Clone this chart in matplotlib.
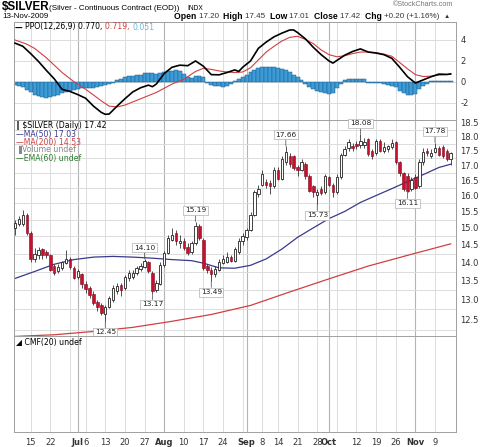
import numpy as np
import pandas as pd
import matplotlib.pyplot as plt
from matplotlib.ticker import FixedLocator, FixedFormatter, NullLocator

# ---- data --------------------------------------------------------------
holidays = ['2009-07-03', '2009-09-07']
dates = pd.bdate_range('2009-06-09', '2009-11-13')
dates = dates[~dates.isin(pd.to_datetime(holidays))]

opens = [15.00, 15.12, 15.12, 15.38, 14.85, 14.10, 14.20, 14.38, 14.30, 14.20,
         13.90, 13.75, 13.85, 13.98, 14.10, 13.85, 13.60, 13.68, 13.42, 13.30,
         13.15, 12.95, 12.85, 12.62, 12.82, 13.00, 13.22, 13.38, 13.30, 13.58,
         13.60, 13.72, 13.82, 13.88, 14.02, 13.72, 13.25, 13.40, 13.92, 14.28,
         14.65, 14.85, 14.55, 14.62, 14.45, 14.30, 14.55, 15.05, 14.65, 13.90,
         13.80, 13.68, 13.80, 13.98, 14.02, 14.15, 14.05, 14.30, 14.60, 14.72,
         14.95, 15.40, 16.05, 16.35, 16.45, 16.40, 16.30, 16.85, 16.55, 17.10,
         17.30, 17.30, 16.95, 16.85, 17.05, 16.65, 16.30, 16.02, 16.22, 16.10,
         16.60, 16.35, 16.10, 16.60, 17.35, 17.60, 17.65, 17.72, 17.68, 17.70,
         17.90, 17.50, 17.40, 17.85, 17.50, 17.55, 17.62, 17.80, 17.10, 16.72,
         16.65, 16.20, 16.60, 16.30, 17.10, 17.50, 17.30, 17.45, 17.60, 17.62,
         17.50, 17.20]
highs = [15.25, 15.35, 15.55, 15.45, 14.90, 14.40, 14.45, 14.42, 14.35, 14.25,
         13.95, 13.95, 14.05, 14.35, 14.15, 13.90, 13.82, 13.72, 13.50, 13.35,
         13.22, 13.00, 12.90, 12.85, 13.10, 13.38, 13.45, 13.45, 13.65, 13.80,
         13.78, 13.90, 13.98, 14.10, 14.05, 13.76, 13.52, 14.00, 14.32, 14.80,
         15.00, 14.95, 14.78, 14.70, 14.55, 14.60, 15.19, 15.12, 14.70, 13.95,
         13.88, 13.90, 14.10, 14.20, 14.30, 14.20, 14.45, 14.70, 14.85, 15.00,
         15.48, 16.18, 16.35, 16.85, 16.55, 16.50, 16.95, 16.95, 17.30, 17.66,
         17.40, 17.35, 17.00, 17.20, 17.10, 16.70, 16.35, 16.20, 16.30, 16.70,
         16.65, 16.40, 16.70, 17.40, 17.65, 17.90, 17.75, 17.85, 18.08, 17.95,
         17.95, 17.55, 17.90, 17.90, 17.80, 17.70, 17.90, 17.85, 17.15, 16.78,
         16.75, 16.60, 16.70, 17.20, 17.60, 17.60, 17.55, 17.78, 17.65, 17.68,
         17.55, 17.45]
lows = [14.80, 15.05, 15.05, 14.80, 14.00, 14.00, 14.10, 14.10, 14.12, 13.75,
        13.65, 13.70, 13.80, 13.95, 13.82, 13.55, 13.55, 13.30, 13.18, 13.05,
        12.85, 12.72, 12.60, 12.45, 12.78, 12.95, 13.15, 13.10, 13.25, 13.50,
        13.55, 13.65, 13.75, 13.85, 13.70, 13.17, 13.20, 13.38, 13.88, 14.25,
        14.60, 14.50, 14.40, 14.35, 14.20, 14.25, 14.50, 14.65, 13.80, 13.70,
        13.49, 13.60, 13.75, 13.95, 13.98, 14.00, 14.00, 14.25, 14.50, 14.65,
        14.90, 15.35, 15.95, 16.30, 16.25, 16.05, 16.25, 16.50, 16.50, 17.00,
        16.95, 16.85, 16.65, 16.80, 16.55, 16.10, 15.95, 15.73, 16.00, 16.05,
        16.30, 15.95, 16.05, 16.55, 17.30, 17.50, 17.50, 17.55, 17.60, 17.60,
        17.30, 17.22, 17.35, 17.45, 17.40, 17.45, 17.55, 17.05, 16.65, 16.15,
        16.11, 16.15, 16.20, 16.25, 17.00, 17.30, 17.25, 17.40, 17.30, 17.25,
        17.15, 17.01]
closes = [15.15, 15.27, 15.38, 14.85, 14.10, 14.25, 14.35, 14.20, 14.20, 13.80,
          13.72, 13.88, 14.00, 14.10, 13.87, 13.58, 13.75, 13.40, 13.27, 13.12,
          12.90, 12.80, 12.65, 12.80, 13.05, 13.30, 13.35, 13.25, 13.60, 13.70,
          13.72, 13.85, 13.90, 14.05, 13.75, 13.22, 13.45, 13.92, 14.28, 14.70,
          14.80, 14.60, 14.62, 14.40, 14.28, 14.55, 15.05, 14.70, 13.85, 13.78,
          13.68, 13.82, 14.00, 14.10, 14.15, 14.05, 14.38, 14.60, 14.75, 14.95,
          15.40, 16.10, 16.20, 16.70, 16.35, 16.30, 16.85, 16.55, 17.20, 17.45,
          17.05, 16.90, 16.85, 17.10, 16.65, 16.15, 16.12, 16.10, 16.08, 16.62,
          16.35, 16.10, 16.60, 17.35, 17.55, 17.80, 17.58, 17.65, 17.82, 17.80,
          17.38, 17.30, 17.85, 17.50, 17.62, 17.65, 17.75, 17.10, 16.72, 16.20,
          16.15, 16.50, 16.25, 17.10, 17.45, 17.40, 17.42, 17.60, 17.35, 17.30,
          17.22, 17.42]

# moving averages, sampled along the chart (day index, value)
ma50_days = [0, 5, 10, 15, 20, 25, 30, 35, 40, 45, 48, 52, 56, 60, 64, 68,
             72, 76, 80, 84, 88, 92, 96, 100, 104, 108, 111]
ma50_vals = [13.56, 13.75, 13.95, 14.08, 14.15, 14.17, 14.15, 14.12, 14.08,
             14.05, 13.98, 13.85, 13.84, 13.92, 14.10, 14.38, 14.72, 15.00,
             15.28, 15.50, 15.78, 16.00, 16.22, 16.45, 16.68, 16.92, 17.03]
ma200_days = [0, 10, 20, 30, 40, 50, 60, 70, 80, 90, 100, 111]
ma200_vals = [12.08, 12.12, 12.20, 12.30, 12.45, 12.62, 12.85, 13.20, 13.55,
              13.90, 14.20, 14.53]

# PPO(12,26,9)
ppo_days = [0, 2, 4, 6, 8, 10, 12, 14, 16, 18, 20, 22, 23, 24, 26, 28, 30, 32,
            34, 35, 36, 38, 40, 42, 44, 46, 48, 50, 52, 54, 56, 57, 58, 60, 62,
            64, 66, 68, 70, 71, 72, 74, 76, 78, 80, 81, 82, 84, 86, 88, 90, 92,
            94, 96, 98, 100, 102, 104, 106, 108, 110, 111]
ppo_vals = [3.70, 3.40, 2.70, 1.95, 1.10, 0.30, -0.70, -0.90, -1.20, -1.55,
            -2.30, -2.90, -3.08, -3.05, -2.30, -1.60, -0.95, -0.55, -0.30, -0.45,
            -0.20, 0.80, 1.40, 1.60, 1.55, 2.00, 1.50, 0.70, 0.68, 0.90, 1.15,
            1.00, 1.40, 2.00, 3.20, 3.80, 4.30, 4.65, 4.95, 4.95, 4.70, 4.10,
            3.30, 2.60, 2.00, 1.80, 2.05, 2.55, 2.90, 3.15, 2.85, 2.75, 2.60,
            2.25, 1.40, 0.50, -0.10, 0.20, 0.50, 0.75, 0.72, 0.77]
signal_days = [0, 3, 5, 8, 10, 12, 15, 18, 20, 22, 24, 26, 28, 30, 32, 34, 36,
               38, 40, 43, 46, 48, 50, 52, 54, 56, 58, 60, 62, 64, 66, 68, 70,
               72, 74, 76, 78, 80, 82, 84, 86, 88, 90, 92, 94, 96, 98, 100, 102,
               104, 106, 108, 110, 111]
signal_vals = [4.00, 3.60, 3.20, 2.30, 1.60, 0.90, 0.03, -0.70, -1.24, -1.80,
               -2.30, -2.38, -2.20, -1.90, -1.60, -1.30, -1.00, -0.60, -0.20,
               0.25, 1.00, 1.30, 1.20, 1.05, 0.95, 0.90, 0.95, 1.35, 2.10, 2.85,
               3.40, 3.90, 4.25, 4.35, 4.05, 3.65, 3.05, 2.60, 2.40, 2.50, 2.70,
               2.85, 2.85, 2.80, 2.65, 2.45, 1.85, 1.25, 0.70, 0.52, 0.55, 0.65,
               0.70, 0.72]
hist_vals = [-0.30, -0.35, -0.45, -0.75, -1.00, -1.25, -1.35, -1.45, -1.50, -1.45,
             -1.35, -1.20, -1.05, -0.95, -0.85, -0.75, -0.65, -0.60, -0.55, -0.55,
             -0.55, -0.50, -0.40, -0.30, -0.20, -0.10, 0.15, 0.30, 0.45, 0.55,
             0.60, 0.65, 0.70, 0.85, 0.90, 0.85, 0.80, 0.85, 0.95, 1.00,
             1.05, 1.10, 1.05, 0.75, 0.50, 0.35, 0.55, 0.60, 0.45, -0.10,
             -0.25, -0.35, -0.40, -0.45, -0.35, -0.20, 0.10, 0.25, 0.45, 0.65,
             0.95, 1.15, 1.30, 1.40, 1.43, 1.43, 1.40, 1.35, 1.25, 1.10,
             0.95, 0.70, 0.45, 0.20, -0.20, -0.45, -0.70, -0.85, -0.95, -1.05,
             -1.10, -1.05, -0.60, -0.20, 0.20, 0.28, 0.30, 0.30, 0.30, 0.25,
             -0.05, -0.08, -0.10, -0.12, -0.15, -0.25, -0.35, -0.45, -0.85, -1.05,
             -1.20, -1.27, -1.15, -0.70, -0.40, -0.20, 0.05, 0.10, 0.12, 0.14,
             0.10, 0.05]

# swing high / low labels: (day index, 'high' or 'low')
swing_days = [33, 46, 69, 88, 107, 23, 35, 50, 77, 100]
swing_kind = ['high', 'high', 'high', 'high', 'high', 'low', 'low', 'low', 'low', 'low']

tick_dates = ['2009-06-15', '2009-06-22', '2009-07-01', '2009-07-06', '2009-07-13',
              '2009-07-20', '2009-07-27', '2009-08-03', '2009-08-10', '2009-08-17',
              '2009-08-24', '2009-09-01', '2009-09-08', '2009-09-14', '2009-09-21',
              '2009-09-28', '2009-10-01', '2009-10-12', '2009-10-19', '2009-10-26',
              '2009-11-02', '2009-11-09']
tick_labels = ['15', '22', 'Jul', '6', '13', '20', '27', 'Aug', '10', '17', '24',
               'Sep', '8', '14', '21', '28', 'Oct', '12', '19', '26', 'Nov', '9']
month_names = {'Jul', 'Aug', 'Sep', 'Oct', 'Nov'}

price_ticks = [12.5, 13.0, 13.5, 14.0, 14.5, 15.0, 15.5, 16.0, 16.5, 17.0, 17.5, 18.0, 18.5]
ppo_ticks = [-2, 0, 2, 4]

# ---- figure ------------------------------------------------------------
W, H = 490, 447
fig = plt.figure(figsize=(W / 100, H / 100), dpi=100)
plt.rcParams['font.family'] = ['DejaVu Sans']

GRID = '#dcdcdc'
MONTH_GRID = '#b4b4b4'
RED = '#c8102e'
MA_RED = '#d04040'
NAVY = '#3a3a8c'
BLUE = '#3d9bd6'


def panel(top, bottom, left=14, right=456):
    return fig.add_axes([left / W, 1 - bottom / H, (right - left) / W, (bottom - top) / H])


def fig_text(x, y, s, **kw):
    kw.setdefault('va', 'center')
    return fig.text(x / W, 1 - y / H, s, **kw)


def text_row(x, y, parts, **kw):
    """write coloured / bold pieces one after another on one line"""
    renderer = fig.canvas.get_renderer()
    for s, color, weight, size in parts:
        t = fig_text(x, y, s, color=color, fontweight=weight, fontsize=size, **kw)
        x += t.get_window_extent(renderer).width


x = np.arange(len(dates))
opens, highs, lows, closes = map(np.array, (opens, highs, lows, closes))
week_first = [i for i in range(1, len(dates)) if dates[i].weekday() < dates[i - 1].weekday()]
month_first = [i for i in range(1, len(dates)) if dates[i].month != dates[i - 1].month]
xlim = (-0.25, 112.35)

ax_ppo = panel(22, 120)
ax_px = panel(120, 336)
ax_cmf = panel(336, 432)

for ax in (ax_ppo, ax_px, ax_cmf):
    ax.set_xlim(*xlim)
    for sp in ax.spines.values():
        sp.set_color('#a0a0a0')
        sp.set_linewidth(0.7)
    for i in week_first:
        if i not in month_first:
            ax.axvline(i, color=GRID, lw=0.7, zorder=0)
    for i in month_first:
        ax.axvline(i, color=MONTH_GRID, lw=0.8, zorder=0)
    ax.yaxis.tick_right()
    ax.tick_params(axis='both', length=0, labelsize=6, labelcolor='#333333', pad=3)
    ax.set_xticks([])

# PPO panel
ax_ppo.set_ylim(-3.62, 5.71)
ax_ppo.yaxis.set_major_locator(FixedLocator(ppo_ticks))
ax_ppo.yaxis.set_major_formatter(FixedFormatter([str(t) for t in ppo_ticks]))
for t in ppo_ticks:
    ax_ppo.axhline(t, color=GRID, lw=0.7, zorder=0)
ax_ppo.bar(x, hist_vals, width=1.0, color=BLUE, edgecolor='#1d5f8e', lw=0.35, zorder=2)
ax_ppo.plot(signal_days, signal_vals, color=MA_RED, lw=0.8, zorder=3)
ax_ppo.plot(ppo_days, ppo_vals, color='black', lw=1.2, zorder=4)

# price panel (log scale, grid sits half way between the labels)
ax_px.set_yscale('log')
ax_px.set_ylim(12.09, 18.60)
ax_px.yaxis.set_major_locator(FixedLocator(price_ticks))
ax_px.yaxis.set_major_formatter(FixedFormatter([f'{t:.1f}' for t in price_ticks]))
ax_px.yaxis.set_minor_locator(NullLocator())
grid_levels = [np.sqrt(a * b) for a, b in zip([12.0] + price_ticks[:-1], price_ticks)]
for g in grid_levels:
    ax_px.axhline(g, color=GRID, lw=0.7, zorder=0)

ax_px.plot(ma200_days, ma200_vals, color=MA_RED, lw=0.9, zorder=2)
ax_px.plot(ma50_days, ma50_vals, color=NAVY, lw=0.9, zorder=2)

up = closes >= opens
body_lo = np.minimum(opens, closes)
body_h = np.maximum(np.abs(closes - opens), 0.02)
ax_px.vlines(x, lows, highs, color='#333333', lw=0.6, zorder=3)
ax_px.bar(x[up], body_h[up], bottom=body_lo[up], width=0.62, facecolor='white',
          edgecolor='#222222', lw=0.6, zorder=4)
ax_px.bar(x[~up], body_h[~up], bottom=body_lo[~up], width=0.62, facecolor=RED,
          edgecolor='#7a0a1c', lw=0.4, zorder=4)

for i, kind in zip(swing_days, swing_kind):
    val = highs[i] if kind == 'high' else lows[i]
    off = 8 if kind == 'high' else -8
    ax_px.annotate(f'{val:.2f}', xy=(i, val), xytext=(0, off), textcoords='offset points',
                   ha='center', va='center', fontsize=5.3, color='#222222', zorder=6,
                   bbox=dict(boxstyle='square,pad=0.2', fc='white', ec='#b0b0b0', lw=0.5),
                   arrowprops=dict(arrowstyle='-', color='#444444', lw=0.5,
                                   shrinkA=0, shrinkB=0))

# CMF panel (empty) carries the date axis
ax_cmf.set_yticks([])
tick_pos = [dates.get_loc(pd.Timestamp(d)) for d in tick_dates]
ax_cmf.set_xticks(tick_pos)
ax_cmf.set_xticklabels(tick_labels)
ax_cmf.tick_params(axis='x', length=0, pad=4, labelsize=6)
for lab in ax_cmf.get_xticklabels():
    if lab.get_text() in month_names:
        lab.set_fontweight('bold')

# ---- header and legends ------------------------------------------------
fig_text(2, 7, '$SILVER', fontsize=8.4, fontweight='bold', family='Liberation Sans')
fig_text(49, 8, '(Silver - Continuous Contract (EOD))', fontsize=5.8, family='Liberation Sans')
fig_text(187, 8, 'INDX', fontsize=4.8, family='Liberation Sans')
fig_text(2, 16.5, '13-Nov-2009', fontsize=5.8, family='Liberation Sans')
fig_text(453, 5, '\u00a9StockCharts.com', fontsize=5.2, color='#777777',
         family='Liberation Sans', ha='right')

hdr = []
for name, val in [('Open', '17.20'), ('High', '17.45'), ('Low', '17.01'),
                  ('Close', '17.42'), ('Chg', '+0.20 (+1.16%)')]:
    hdr.append((name + ' ', 'black', 'bold', 6.2))
    hdr.append((val + '  ', '#333333', 'normal', 5.8))
hdr.append(('\u25b2', '#333333', 'normal', 4.5))
text_row(174, 16.5, hdr, family='Liberation Sans')

text_row(15, 27, [('\u2014 ', 'black', 'bold', 5.6),
                  ('PPO(12,26,9) 0.770, ', 'black', 'normal', 5.6),
                  ('0.719, ', MA_RED, 'normal', 5.6),
                  ('0.051', '#6bb4e0', 'normal', 5.6)])

fig_text(16, 126, '\u2016 $SILVER (Daily) 17.42', fontsize=5.6, color='black')
fig_text(16, 134, '\u2014MA(50) 17.03', fontsize=5.6, color=NAVY)
fig_text(16, 142, '\u2014MA(200) 14.53', fontsize=5.6, color=MA_RED)
fig_text(16, 150, '\u2590Volume undef', fontsize=5.6, color='#888888')
fig_text(16, 158, '\u2014EMA(60) undef', fontsize=5.6, color='#2f7f2f')
fig_text(16, 342, '\u25e2 CMF(20) undef', fontsize=5.6, color='black')

fig.savefig('out.png', dpi=100, facecolor='white')
